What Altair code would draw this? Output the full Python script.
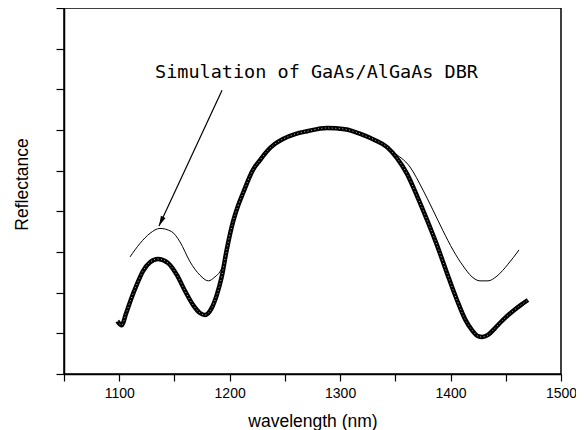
import altair as alt
import pandas as pd

# Measured reflectance (thick, circle markers)
wl_meas = [1098.3, 1102.2, 1106.1, 1110.7, 1116.1, 1121.5, 1127.9, 1135.1, 1144.2, 1152.3,
           1159.6, 1166.8, 1173.1, 1177.7, 1183.7, 1188.3, 1192.8, 1197.3, 1203.0, 1207.5,
           1212.1, 1221.1, 1227.5, 1233.8, 1241.1, 1248.3, 1259.2, 1270.0, 1288.1, 1304.4,
           1320.7, 1331.6, 1342.5, 1351.5, 1360.6, 1369.6, 1378.7, 1387.7, 1396.8, 1405.8,
           1413.1, 1419.4, 1424.9, 1428.5, 1433.9, 1440.3, 1447.5, 1456.6, 1463.8, 1470.1]
r_meas = [0.130, 0.120, 0.148, 0.184, 0.221, 0.253, 0.275, 0.283, 0.273, 0.243,
          0.204, 0.170, 0.150, 0.145, 0.162, 0.194, 0.239, 0.305, 0.374, 0.413,
          0.445, 0.502, 0.526, 0.548, 0.566, 0.578, 0.590, 0.597, 0.605, 0.602,
          0.588, 0.575, 0.558, 0.531, 0.492, 0.438, 0.379, 0.317, 0.248, 0.182,
          0.135, 0.108, 0.093, 0.091, 0.096, 0.113, 0.133, 0.155, 0.170, 0.182]

# Simulated reflectance (thin line)
wl_sim = [1109.8, 1118.8, 1127.9, 1136.9, 1147.5, 1155.0, 1164.1, 1173.1, 1180.7, 1186.7,
          1191.3, 1194.9, 1197.3, 1203.0, 1207.5, 1212.1, 1221.1, 1227.5, 1233.8, 1241.1,
          1248.3, 1259.2, 1270.0, 1288.1, 1304.4, 1320.7, 1331.6, 1342.5, 1348.0, 1363.3,
          1375.1, 1384.1, 1393.2, 1402.2, 1411.3, 1419.4, 1426.7, 1433.9, 1442.1, 1452.0,
          1462.0]
r_sim = [0.288, 0.321, 0.346, 0.358, 0.350, 0.325, 0.276, 0.243, 0.229, 0.239,
         0.252, 0.275, 0.305, 0.374, 0.413, 0.445, 0.502, 0.526, 0.548, 0.566,
         0.578, 0.590, 0.597, 0.605, 0.602, 0.588, 0.575, 0.558, 0.546, 0.509,
         0.452, 0.403, 0.352, 0.305, 0.266, 0.239, 0.229, 0.229, 0.241, 0.270,
         0.305]

x_ticks = [1050, 1100, 1150, 1200, 1250, 1300, 1350, 1400, 1450, 1500]
y_ticks = [0.0, 0.05, 0.1, 0.15, 0.2, 0.25, 0.3, 0.35, 0.4, 0.45,
           0.5, 0.55, 0.6, 0.65, 0.7, 0.75, 0.8, 0.85, 0.9]

annot_label = ["Simulation of GaAs/AlGaAs DBR"]
annot_wl = [1132.4]
annot_r = [0.743]
arrow_from_wl = [1193.1]
arrow_from_r = [0.698]
arrow_tip_wl = [1136.0]
arrow_tip_r = [0.364]

meas = pd.DataFrame({"wl": wl_meas, "r": r_meas})
sim = pd.DataFrame({"wl": wl_sim, "r": r_sim})
annot = pd.DataFrame({"wl": annot_wl, "r": annot_r, "label": annot_label})
arrow = pd.DataFrame({"wl": arrow_from_wl, "r": arrow_from_r,
                      "wl2": arrow_tip_wl, "r2": arrow_tip_r})

xs = alt.Scale(domain=[1050, 1500], nice=False, zero=False)
ys = alt.Scale(domain=[0, 0.9], nice=False)

x_enc = alt.X("wl:Q", scale=xs, axis=alt.Axis(
    title="wavelength (nm)", values=x_ticks, format="d",
    labelExpr="datum.value % 100 == 0 ? datum.label : ''",
    labelFlush=False, tickSize=7, labelPadding=5,
    labelFontSize=14, titleFontSize=17.5, titleY=47, titleBaseline="middle"))
y_enc = alt.Y("r:Q", scale=ys, axis=alt.Axis(
    title="Reflectance", values=y_ticks, labels=False, tickSize=8,
    titleFontSize=17.5, titleX=-42, titleY=176, titleBaseline="middle"))

thin = alt.Chart(sim).mark_line(color="black", strokeWidth=1, interpolate="monotone").encode(
    x=x_enc, y=y_enc)
thick = alt.Chart(meas).mark_line(color="black", strokeWidth=4.5, interpolate="monotone").encode(
    x="wl:Q", y="r:Q")
dots = alt.Chart(meas).mark_line(color="white", strokeWidth=1, strokeDash=[1, 2.5],
                                 opacity=0.7, interpolate="monotone").encode(
    x="wl:Q", y="r:Q")
text = alt.Chart(annot).mark_text(align="left", baseline="middle", font="DejaVu Sans Mono",
                                  fontSize=18.5, color="black").encode(
    x="wl:Q", y="r:Q", text="label:N")
rule = alt.Chart(arrow).mark_rule(color="black", strokeWidth=1.2).encode(
    x="wl:Q", y="r:Q", x2="wl2:Q", y2="r2:Q")
head = alt.Chart(arrow).mark_point(shape="M0,0L-0.5,-2L0.5,-2Z", filled=True, color="black",
                                   size=100, angle=25, opacity=1).encode(
    x="wl2:Q", y="r2:Q")

chart = alt.layer(thin, thick, dots, rule, head, text).properties(
    width=497, height=366,
    autosize=alt.AutoSizeParams(type="none"),
    padding={"left": 56, "top": 0, "right": 15, "bottom": 56},
    background="white",
).configure_view(stroke="black", strokeWidth=1.5).configure_axis(
    grid=False, domainColor="black", domainWidth=1.5, tickColor="black", tickWidth=1.2,
    labelColor="black", titleColor="black", labelFont="Liberation Sans",
    titleFont="Liberation Sans", titleFontWeight="normal")

chart.save("out.html", embed_options={"renderer": "svg", "actions": False})
